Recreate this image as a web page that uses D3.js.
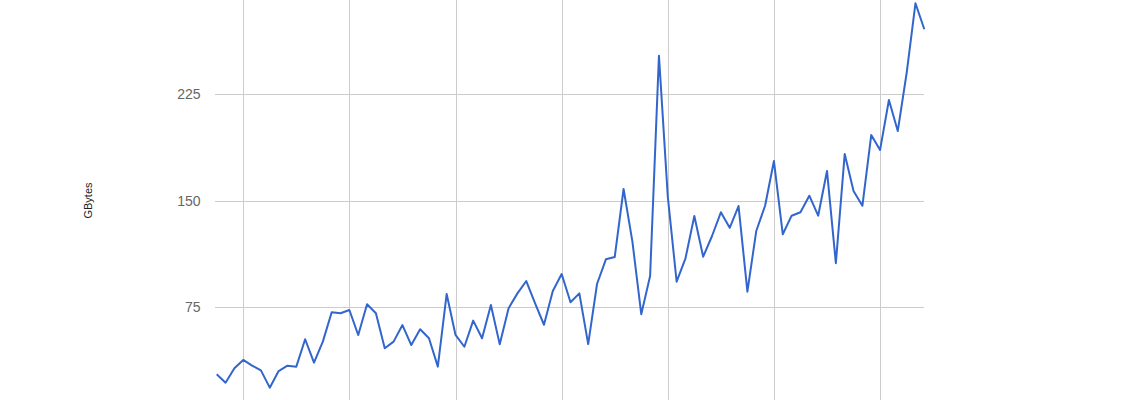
<!DOCTYPE html>
<html>
<head>
<meta charset="UTF-8" />
<title>GBytes per month</title>
<script src="https://d3js.org/d3.v7.min.js"></script>
<style>
  body { margin: 0; background: #fff; }
  svg { display: block; }
  .grid line { stroke: #cccccc; stroke-width: 1px; shape-rendering: crispEdges; }
  .ylabels text { font-family: Arial, "Liberation Sans", sans-serif; font-size: 14px; fill: #666; }
  .ytitle { font-family: Arial, "Liberation Sans", sans-serif; font-size: 11px; fill: #222; }
</style>
</head>
<body>
<script>
// monthly traffic, first point is October, 81 months
const values = [
  27.6, 21.7, 31.8, 37.7, 33.7, 30.4, 18.2, 29.9, 33.7, 33.0, 52.3, 35.8,
  50.6, 71.3, 70.6, 72.9, 55.3, 76.9, 70.6, 45.9, 50.6, 62.3, 48.2, 59.3,
  53.0, 33.0, 84.2, 55.3, 47.0, 65.4, 53.0, 76.4, 48.7, 74.1, 84.6, 93.3,
  77.6, 62.5, 86.3, 98.2, 78.3, 84.6, 48.9, 91.2, 108.6, 110.2, 158.1, 121.0,
  69.9, 96.8, 252.0, 152.7, 92.8, 109.3, 139.1, 110.4, 125.0, 141.7, 130.8, 146.1,
  85.8, 128.5, 146.3, 177.8, 126.2, 139.3, 141.7, 153.4, 139.3, 170.8, 105.8, 182.7,
  156.7, 146.3, 196.1, 185.6, 220.8, 198.9, 239.6, 288.9, 270.6
];
// index of each January (vertical gridlines)
const januaries = [3, 15, 27, 39, 51, 63, 75];
const yTicks = [75, 150, 225];
const yTitle = "GBytes";

const width = 1140, height = 400;

const svg = d3.select("body").append("svg")
  .attr("width", width)
  .attr("height", height);

const x = d3.scaleLinear()
  .domain([0, values.length - 1])
  .range([216.7, 924.3]);

const y = d3.scaleLinear()
  .domain([0, 300])
  .range([413.5, -12.5]);

// gridlines
const grid = svg.append("g").attr("class", "grid");

grid.selectAll("line.h")
  .data(yTicks)
  .enter().append("line")
  .attr("class", "h")
  .attr("x1", 215)
  .attr("x2", x.range()[1])
  .attr("y1", d => Math.round(y(d)) + 0.5)
  .attr("y2", d => Math.round(y(d)) + 0.5);

grid.selectAll("line.v")
  .data(januaries)
  .enter().append("line")
  .attr("class", "v")
  .attr("x1", d => Math.round(x(d)) + 0.5)
  .attr("x2", d => Math.round(x(d)) + 0.5)
  .attr("y1", 0)
  .attr("y2", height);

// y labels
svg.append("g").attr("class", "ylabels")
  .selectAll("text")
  .data(yTicks)
  .enter().append("text")
  .attr("x", 200.5)
  .attr("y", d => y(d))
  .attr("dy", "0.36em")
  .attr("text-anchor", "end")
  .text(d => d);

// axis title
svg.append("text")
  .attr("class", "ytitle")
  .attr("transform", `translate(92, ${y(150)}) rotate(-90)`)
  .attr("text-anchor", "middle")
  .text(yTitle);

// the series
const line = d3.line()
  .x((d, i) => x(i))
  .y(d => y(d));

svg.append("path")
  .datum(values)
  .attr("fill", "none")
  .attr("stroke", "#3366cc")
  .attr("stroke-width", 2)
  .attr("stroke-linejoin", "round")
  .attr("d", line);
</script>
</body>
</html>
